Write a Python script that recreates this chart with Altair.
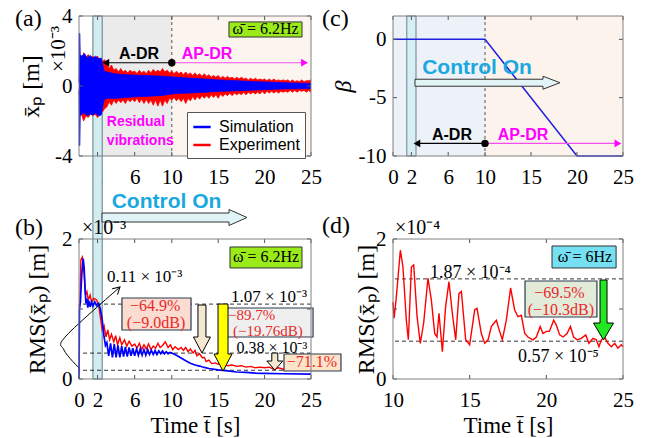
import altair as alt
import pandas as pd

SERIF = "Liberation Serif"
SANS = "Liberation Sans"

# ---------------- values ----------------
# (a) displacement envelopes [x1e-3 m]
SIM_T = [0.0, 0.03, 0.09, 0.13, 0.3, 0.6, 0.9, 1.2, 1.5, 1.8, 2.1, 2.4, 2.55, 2.7, 3.0,
         4, 5, 6, 7, 8, 9, 10, 11, 12, 13, 14, 15, 16, 17, 18, 19, 20, 21, 22, 23, 24, 25]
SIM_HI = [0.2, 3.0, 3.0, 1.8, 1.7, 1.85, 1.6, 1.75, 1.6, 1.7, 1.55, 1.6, 1.2, 0.85, 0.8,
          0.68, 0.65, 0.62, 0.6, 0.58, 0.56, 0.52, 0.48, 0.45, 0.42, 0.38, 0.35, 0.32, 0.3,
          0.27, 0.25, 0.23, 0.21, 0.19, 0.17, 0.16, 0.15]
SIM_LO = [-0.2, -3.4, -3.4, -1.7, -1.6, -1.55, -1.7, -1.6, -1.65, -1.55, -1.7, -1.65, -1.2, -0.8, -0.7,
          -0.7, -0.66, -0.62, -0.6, -0.57, -0.54, -0.45, -0.42, -0.4, -0.37, -0.34, -0.31, -0.29, -0.27,
          -0.25, -0.23, -0.21, -0.19, -0.17, -0.16, -0.15, -0.14]
EXP_T = [k * 0.25 for k in range(101)]
EXP_HI = [0.3, 1.4, 1.9, 1.6, 1.8, 1.5, 1.7, 1.6, 1.7, 1.5,
          1.4, 1.5, 1.3, 1.0, 1.2, 0.9, 1.0, 0.8, 1.0, 0.8,
          0.9, 0.75, 0.9, 0.8, 0.85, 0.7, 0.9, 0.75, 0.85, 0.7,
          0.9, 0.75, 0.95, 0.8, 0.9, 0.8, 1.0, 0.8, 0.9, 0.75,
          0.85, 0.7, 0.85, 0.7, 0.8, 0.65, 0.8, 0.65, 0.75, 0.6,
          0.75, 0.6, 0.7, 0.55, 0.7, 0.55, 0.65, 0.5, 0.6, 0.5,
          0.6, 0.45, 0.55, 0.45, 0.55, 0.45, 0.5, 0.4, 0.5, 0.4,
          0.5, 0.4, 0.45, 0.35, 0.45, 0.35, 0.45, 0.35, 0.4, 0.35,
          0.4, 0.3, 0.4, 0.3, 0.4, 0.3, 0.35, 0.3, 0.35, 0.3,
          0.35, 0.25, 0.35, 0.25, 0.3, 0.25, 0.35, 0.25, 0.3, 0.3,
          0.35]
EXP_LO = [-0.3, -1.6, -2.0, -1.7, -1.8, -1.6, -1.7, -1.6, -1.8, -1.6,
          -1.5, -1.3, -1.2, -0.9, -1.1, -0.8, -1.0, -0.8, -0.95, -0.8,
          -1.0, -0.75, -0.9, -0.75, -0.9, -0.7, -0.95, -0.75, -1.0, -0.75,
          -1.0, -0.8, -1.1, -0.8, -1.15, -0.8, -1.15, -0.8, -1.0, -0.7,
          -0.8, -0.65, -0.85, -0.7, -0.9, -0.7, -1.0, -0.7, -0.85, -0.6,
          -0.8, -0.6, -0.75, -0.55, -0.7, -0.55, -0.7, -0.5, -0.65, -0.5,
          -0.7, -0.45, -0.6, -0.45, -0.55, -0.4, -0.55, -0.4, -0.5, -0.4,
          -0.5, -0.35, -0.5, -0.35, -0.45, -0.35, -0.45, -0.35, -0.45, -0.3,
          -0.45, -0.3, -0.4, -0.3, -0.4, -0.3, -0.4, -0.3, -0.35, -0.3,
          -0.35, -0.25, -0.35, -0.25, -0.35, -0.25, -0.3, -0.25, -0.35, -0.25,
          -0.35]

# (b) RMS [x1e-3 m]
RMS_SIM_T = [0, 0.05, 0.15, 0.3, 0.45, 0.55, 0.65, 0.75, 0.85, 0.95, 1.05, 1.2, 1.35, 1.5, 1.7,
             1.9, 2.1, 2.3, 2.5, 2.7, 2.85,
             3.0, 3.2, 3.4, 3.6, 3.8, 4.0, 4.2, 4.4, 4.6, 4.8, 5.0, 5.2, 5.4, 5.6, 5.8, 6.0,
             6.2, 6.4, 6.6, 6.8, 7.0, 7.2, 7.4, 7.6, 7.8, 8.0, 8.2, 8.4, 8.6, 8.8, 9.0, 9.2,
             9.4, 9.6, 9.8, 10.0,
             10.5, 11, 11.5, 12, 12.5, 13, 13.5, 14, 15, 16, 17, 18, 19, 20, 22, 25]
RMS_SIM = [0.0, 1.0, 1.1, 1.5, 1.72, 1.6, 1.3, 1.08, 1.15, 1.02, 1.12, 1.03, 1.1, 1.04, 1.1,
           1.05, 1.08, 1.0, 0.85, 0.6, 0.48,
           0.52, 0.33, 0.51, 0.31, 0.50, 0.31, 0.48, 0.31, 0.47, 0.32, 0.46, 0.32, 0.45, 0.33, 0.44, 0.33,
           0.43, 0.34, 0.43, 0.34, 0.42, 0.34, 0.42, 0.35, 0.41, 0.35, 0.41, 0.35, 0.40, 0.36, 0.40, 0.36,
           0.39, 0.36, 0.38, 0.37,
           0.34, 0.30, 0.26, 0.225, 0.20, 0.185, 0.165, 0.15, 0.13, 0.115, 0.10, 0.095, 0.085, 0.08, 0.075, 0.07]
RMS_EXP_T = [0, 0.1, 0.2, 0.35, 0.55, 0.7, 0.85, 1.0, 1.2, 1.35,
             1.6, 1.9, 2.15, 2.35, 2.5, 2.7, 2.9, 3.1, 3.3, 3.5,
             3.75, 3.95, 4.15, 4.4, 4.6, 4.9, 5.15, 5.4, 5.7, 6.0,
             6.25, 6.5, 6.75, 7.0, 7.25, 7.5, 7.75, 8.0, 8.25, 8.5,
             8.75, 9.0, 9.3, 9.6, 9.85, 10.1, 10.35, 10.7, 11.0, 11.25,
             11.5, 11.75, 12.0, 12.3, 12.5, 12.7, 13.0, 13.3, 13.5, 13.7,
             14.0, 14.3, 14.7, 15.0, 15.5, 16.0, 16.5, 17.0, 17.5, 18.0,
             18.5, 19.0, 19.5, 20.0, 20.5, 21.0, 21.5, 22.0, 22.5, 23.0,
             23.5, 24.0, 24.5, 25.0]
RMS_EXP = [1.05, 1.08, 1.70, 1.74, 1.51, 1.20, 1.25, 1.13, 1.20, 1.10,
           1.15, 1.13, 1.03, 0.84, 0.70, 0.76, 0.60, 0.70, 0.56, 0.64,
           0.53, 0.62, 0.49, 0.59, 0.49, 0.56, 0.47, 0.54, 0.47, 0.50,
           0.44, 0.51, 0.42, 0.49, 0.43, 0.50, 0.42, 0.47, 0.44, 0.51,
           0.45, 0.48, 0.53, 0.45, 0.49, 0.42, 0.46, 0.42, 0.45, 0.41,
           0.45, 0.39, 0.43, 0.37, 0.41, 0.33, 0.36, 0.30, 0.31, 0.25,
           0.27, 0.22, 0.23, 0.21, 0.22, 0.19, 0.20, 0.18, 0.19, 0.17,
           0.18, 0.16, 0.17, 0.16, 0.17, 0.14, 0.16, 0.14, 0.16, 0.14,
           0.15, 0.14, 0.15, 0.15]
B_LEVELS = [1.07, 0.37, 0.125]

# (c) beta schedule
BETA_T = [0, 10, 20, 25]
BETA = [0, 0, -10, -10]

# (d) RMS at 6 Hz [x1e-4 m]
D_T = [10.0, 10.07, 10.2, 10.48, 10.65, 10.87, 11.0, 11.2, 11.35, 11.57,
       11.78, 12.0, 12.28, 12.5, 12.72, 12.87, 13.0, 13.22, 13.43, 13.65,
       13.87, 14.09, 14.3, 14.46, 14.74, 15.0, 15.33, 15.48, 15.76, 15.98,
       16.2, 16.41, 16.74, 16.9, 17.13, 17.39, 17.67, 17.93, 18.15, 18.37,
       18.59, 18.8, 19.13, 19.35, 19.6, 19.78, 20.0, 20.2, 20.48, 20.65,
       20.87, 21.09, 21.35, 21.57, 21.78, 22.0, 22.28, 22.57, 22.78, 23.04,
       23.26, 23.43, 23.59, 23.8, 24.02, 24.24, 24.46, 24.67, 24.89, 25.0]
D_V = [1.10, 0.87, 1.13, 1.84, 1.6, 0.84, 0.56, 1.6, 1.63, 0.89,
       0.51, 0.8, 1.44, 1.13, 0.65, 0.6, 0.94, 0.39, 1.03, 1.39,
       0.94, 0.56, 1.22, 1.25, 0.56, 0.49, 0.99, 1.01, 0.65, 0.51,
       0.56, 0.75, 0.84, 0.72, 0.56, 0.84, 1.3, 0.99, 0.89, 0.91,
       0.65, 0.6, 0.56, 0.6, 0.75, 0.65, 0.68, 0.68, 0.84, 0.77,
       0.63, 0.6, 0.65, 0.75, 0.6, 0.56, 0.58, 0.63, 0.51, 0.58,
       0.56, 0.46, 0.56, 0.6, 0.51, 0.46, 0.51, 0.44, 0.49, 0.46]
D_LEVELS = [1.43, 0.54]

XT_A = [2, 6, 10, 15, 20, 25]
XT_BC = [0, 2, 6, 10, 15, 20, 25]
XT_D = [10, 15, 20, 25]
YT_A = [-4, 0, 4]
YT_B = [0, 1, 2]
YT_C = [-10, -5, 0]

# ---------------- layout constants ----------------
W1, W2, H = 232, 230, 140
RED, BLUE, MAG, CYAN = "#ff0000", "#0000ff", "#ff00ff", "#1aa8e0"
BOXRED = "#e8292b"
DARKBOX = "#2b3a4e"
ARROW_CTRL_AB = "M0,-4.5L127,-4.5L127,-8L145,0L127,8L127,4.5L0,4.5Z"
ARROW_CTRL_C = "M0,-3.5L128,-3.5L128,-6.5L145,0L128,6.5L128,3.5L0,3.5Z"
DOWN1 = "M-4,0L4,0L4,32L8.5,32L0,48L-8.5,32L-4,32Z"
DOWN2 = "M-5,0L5,0L5,50L9,50L0,67L-9,50L-5,50Z"
DOWN3 = "M-3,0L3,0L3,8L8,8L0,17L-8,8L-3,8Z"
DOWNG = "M-3.5,0L3.5,0L3.5,43L10,43L0,60L-10,43L-3.5,43Z"
CHEVRON = "M-7,-4L0,0L-7,4"


def xaxis(values, title=None):
    kw = dict(values=values, ticks=False, labelPadding=10, labelFont=SERIF, labelFontSize=21,
              labelColor="black", labelFlush=False, labelOverlap=False, domain=False, grid=False,
              format="d")
    if title is None:
        kw["title"] = None
    else:
        kw.update(title=title, titleFont=SERIF, titleFontSize=23, titleFontWeight="normal",
                  titleColor="black", titleY=46, titleBaseline="middle", titleAlign="center")
    return alt.Axis(**kw)


def yaxis(values, title, tx, italic=False):
    kw = dict(values=values, ticks=False, labelPadding=7, labelFont=SERIF, labelFontSize=21,
              labelColor="black", labelFlush=False, labelOverlap=False, domain=False, grid=False,
              format="d", labelExpr="replace(datum.label, '\u2212', '-')",
              title=title, titleFont=SERIF, titleFontSize=24, titleFontWeight="normal",
              titleColor="black", titleX=tx, titleY=H / 2, titleAngle=270,
              titleAlign="center", titleBaseline="middle")
    if italic:
        kw["titleFontStyle"] = "italic"
    return alt.Axis(**kw)


def X(p, f):
    return alt.X(f, type="quantitative", scale=p["sx"], axis=p["ax"])


def Y(p, f):
    return alt.Y(f, type="quantitative", scale=p["sy"], axis=p["ay"])


def df1(**kw):
    return pd.DataFrame({k: [v] for k, v in kw.items()})


def txt(p, t, v, s, size=16, color="black", font=SERIF, weight="normal", align="center", baseline="middle"):
    return alt.Chart(df1(t=t, v=v, s=s)).mark_text(
        font=font, fontSize=size, color=color, fontWeight=weight, align=align, baseline=baseline
    ).encode(x=X(p, "t"), y=Y(p, "v"), text="s:N")


def txt_px(x, y, s, size=20, color="black", font=SERIF, weight="normal", align="left", baseline="middle", angle=0):
    m = dict(font=font, fontSize=size, color=color, fontWeight=weight, align=align, baseline=baseline)
    if angle:
        m["angle"] = angle
    return alt.Chart(df1(s=s)).mark_text(**m).encode(x=alt.value(x), y=alt.value(y), text="s:N")


def box(p, t0, t1, v0, v1, fill, stroke=DARKBOX, sw=1.2):
    return alt.Chart(df1(t0=t0, t1=t1, v0=v0, v1=v1)).mark_rect(
        fill=fill, stroke=stroke, strokeWidth=sw, clip=False
    ).encode(x=X(p, "t0"), x2="t1", y=Y(p, "v0"), y2="v1")


def glyph(p, t, v, path, fill, stroke="black", sw=1, angle=0, filled=True):
    m = dict(shape=path, size=4, strokeWidth=sw, stroke=stroke, opacity=1, filled=filled, clip=False)
    if filled:
        m["fill"] = fill
    if angle:
        m["angle"] = angle
    return alt.Chart(df1(t=t, v=v)).mark_point(**m).encode(x=X(p, "t"), y=Y(p, "v"))


def glyph_px(x, y, path, fill, stroke="#333", sw=1):
    return alt.Chart(df1(a=0)).mark_point(
        shape=path, size=4, strokeWidth=sw, stroke=stroke, fill=fill, filled=True, opacity=1
    ).encode(x=alt.value(x), y=alt.value(y))


def seg(p, t0, t1, v0, v1, color, sw=1):
    return alt.Chart(df1(t0=t0, t1=t1, v0=v0, v1=v1)).mark_rule(color=color, strokeWidth=sw).encode(
        x=X(p, "t0"), x2="t1", y=Y(p, "v0"), y2="v1")


def pt(p, t, v, shape, color, size):
    return alt.Chart(df1(t=t, v=v)).mark_point(shape=shape, size=size, filled=True, color=color, opacity=1).encode(
        x=X(p, "t"), y=Y(p, "v"))


def frame(w):
    return alt.Chart(df1(a=0)).mark_rect(filled=False, stroke="#808080", strokeWidth=1).encode(
        x=alt.value(0), x2=alt.value(w), y=alt.value(0), y2=alt.value(H))


def inner_ticks(p, xt, yt, w):
    """MATLAB-style inward ticks on all four sides, at the axis tick values."""
    xs = pd.DataFrame({"t": xt})
    ys = pd.DataFrame({"v": yt})
    st = dict(color="#555", strokeWidth=1)
    return [
        alt.Chart(xs).mark_rule(**st).encode(x=X(p, "t"), y=alt.value(H - 4), y2=alt.value(H)),
        alt.Chart(xs).mark_rule(**st).encode(x=X(p, "t"), y=alt.value(0), y2=alt.value(4)),
        alt.Chart(ys).mark_rule(**st).encode(y=Y(p, "v"), x=alt.value(0), x2=alt.value(4)),
        alt.Chart(ys).mark_rule(**st).encode(y=Y(p, "v"), x=alt.value(w - 4), x2=alt.value(w)),
    ]


def vdash(p, t):
    return alt.Chart(df1(t=t)).mark_rule(color="#555", strokeDash=[3, 3], strokeWidth=1).encode(
        x=X(p, "t"), y=alt.value(0), y2=alt.value(H))


def hdash(p, levels):
    return alt.Chart(pd.DataFrame({"v": levels})).mark_rule(color="black", strokeDash=[4, 3], strokeWidth=0.8).encode(
        y=Y(p, "v"))


# ================= panel (a) =================
PA = dict(sx=alt.Scale(domain=[0, 25], nice=False, zero=False),
          sy=alt.Scale(domain=[-4, 4], nice=False, zero=False),
          ax=xaxis(XT_A), ay=yaxis(YT_A, "x\u0304\u209a [m]", -48))

COLOR = alt.Scale(domain=["Simulation", "Experiment"], range=[BLUE, RED])
LEG = alt.Legend(title=None, orient="none", legendX=108, legendY=96, direction="vertical",
                 symbolType="stroke", symbolSize=300, symbolStrokeWidth=2.5,
                 labelFont=SANS, labelFontSize=16, labelColor="black", labelOffset=7,
                 strokeColor="#555", fillColor="white", padding=5, rowPadding=0, cornerRadius=0)

exp_df = pd.DataFrame({"t": EXP_T, "lo": EXP_LO, "hi": EXP_HI})
sim_df = pd.DataFrame({"t": SIM_T, "lo": SIM_LO, "hi": SIM_HI})


def edges(name, T, LO, HI):
    rows = []
    for e, V in (("lo", LO), ("hi", HI)):
        for t, v in zip(T, V):
            rows.append({"t": t, "v": v, "series": name, "edge": e})
    return pd.DataFrame(rows)


def edge_layer(df):
    return alt.Chart(df).mark_line(strokeWidth=0.8).encode(
        x=X(PA, "t"), y=Y(PA, "v"), detail="edge:N",
        color=alt.Color("series:N", scale=COLOR, legend=LEG))


bg_a = pd.DataFrame({"t0": [2.5, 10], "t1": [10, 25], "c": ["#ebebeb", "#fcf4ee"]})
layers_a = [
    alt.Chart(bg_a).mark_rect().encode(x=X(PA, "t0"), x2="t1", y=alt.value(0), y2=alt.value(H),
                                       fill=alt.Fill("c:N", scale=None)),
    alt.Chart(df1(t0=1.5, t1=2.5)).mark_rect(fill="#d3ecf1", stroke="#5e7c82", strokeWidth=1, clip=False).encode(
        x=X(PA, "t0"), x2="t1", y=alt.value(0), y2=alt.value(363)),
    vdash(PA, 10),
    alt.Chart(exp_df).mark_area(color=RED, opacity=1).encode(x=X(PA, "t"), y=Y(PA, "lo"), y2="hi"),
    edge_layer(edges("Experiment", EXP_T, EXP_LO, EXP_HI)),
    alt.Chart(sim_df).mark_area(color=BLUE, opacity=1).encode(x=X(PA, "t"), y=Y(PA, "lo"), y2="hi"),
    edge_layer(edges("Simulation", SIM_T, SIM_LO, SIM_HI)),
    box(PA, 16.16, 24.03, 3.66, 2.8, "#9bea1a", stroke="#333", sw=1),
    txt(PA, 20.1, 3.23, "\u03c9\u0304 = 6.2Hz", size=16),
    seg(PA, 2.9, 10, 1.33, 1.33, "black", 1.2),
    seg(PA, 10, 24.3, 1.33, 1.33, "#f050f0", 1.2),
    pt(PA, 2.9, 1.33, "triangle-left", "black", 60),
    pt(PA, 24.3, 1.33, "triangle-right", MAG, 60),
    pt(PA, 10, 1.33, "circle", "black", 55),
    txt(PA, 6.47, 1.83, "A-DR", size=16, font=SANS, weight="bold"),
    txt(PA, 13.8, 1.83, "AP-DR", size=16, font=SANS, weight="bold", color=MAG),
    txt(PA, 3.0, -2.06, "Residual", size=14, font=SANS, weight="bold", color=MAG, align="left"),
    txt(PA, 3.0, -3.14, "vibrations", size=14, font=SANS, weight="bold", color=MAG, align="left"),
    txt_px(87.5, 186, "Control On", size=21, font=SANS, weight="bold", color=CYAN, align="center"),
    glyph_px(23, 201.5, ARROW_CTRL_AB, "#e0f3f7"),
    txt_px(-64, 3, "(a)", size=24),
    txt_px(-20, 33, "\u00d710\u207b\u00b3", size=21, align="center", angle=270),
    *inner_ticks(PA, XT_A, YT_A, W1),
    frame(W1),
    alt.Chart(df1(a=0)).mark_rule(strokeWidth=0, opacity=0).encode(
        x=alt.value(-79), x2=alt.value(-78), y=alt.value(-16), y2=alt.value(-16)),
]
panel_a = alt.layer(*layers_a).properties(width=W1, height=H)

# ================= panel (c) =================
PC = dict(sx=alt.Scale(domain=[0, 25], nice=False, zero=False),
          sy=alt.Scale(domain=[-10, 2], nice=False, zero=False),
          ax=xaxis(XT_BC), ay=yaxis(YT_C, "\u03b2", -50, italic=True))
bg_c = pd.DataFrame({"t0": [0, 10], "t1": [10, 25], "c": ["#edf1f8", "#fcf3ec"]})
beta_df = pd.DataFrame({"t": BETA_T, "b": BETA})
layers_c = [
    alt.Chart(bg_c).mark_rect().encode(x=X(PC, "t0"), x2="t1", y=alt.value(0), y2=alt.value(H),
                                       fill=alt.Fill("c:N", scale=None)),
    alt.Chart(df1(t0=1.5, t1=2.5)).mark_rect(fill="#d8eef5", stroke="#6a8088", strokeWidth=1).encode(
        x=X(PC, "t0"), x2="t1", y=alt.value(0), y2=alt.value(H)),
    vdash(PC, 10),
    alt.Chart(beta_df).mark_line(color="#2020e0", strokeWidth=1.5).encode(x=X(PC, "t"), y=Y(PC, "b")),
    txt(PC, 9.13, -2.48, "Control On", size=21, font=SANS, weight="bold", color=CYAN),
    glyph(PC, 2.39, -3.72, ARROW_CTRL_C, "#e3f4f6", stroke="#333"),
    seg(PC, 2.6, 10, -8.92, -8.92, "black", 1.2),
    seg(PC, 10, 24.45, -8.92, -8.92, "#f050f0", 1.2),
    pt(PC, 2.6, -8.92, "triangle-left", "black", 60),
    pt(PC, 24.45, -8.92, "triangle-right", MAG, 60),
    pt(PC, 10, -8.92, "circle", "black", 55),
    txt(PC, 6.41, -8.2, "A-DR", size=16, font=SANS, weight="bold"),
    txt(PC, 14.13, -8.2, "AP-DR", size=16, font=SANS, weight="bold", color=MAG),
    txt_px(-71, 3, "(c)", size=24),
    *inner_ticks(PC, XT_BC, YT_C, W2),
    frame(W2),
]
panel_c = alt.layer(*layers_c).properties(width=W2, height=H)

# ================= panel (b) =================
PB = dict(sx=alt.Scale(domain=[0, 25], nice=False, zero=False),
          sy=alt.Scale(domain=[0, 2], nice=False, zero=False),
          ax=xaxis(XT_BC, "Time t\u0304 [s]"), ay=yaxis(YT_B, "RMS(x\u0304\u209a) [m]", -42))
rms_exp_df = pd.DataFrame({"t": RMS_EXP_T, "v": RMS_EXP})
rms_sim_df = pd.DataFrame({"t": RMS_SIM_T, "v": RMS_SIM})
curve_df = pd.DataFrame({"i": [0, 1, 2, 3], "t": [0.11, -1.62, -1.40, 4.42], "v": [0.143, 0.414, 0.614, 1.314]})
layers_b = [
    hdash(PB, B_LEVELS),
    alt.Chart(rms_exp_df).mark_line(color=RED, strokeWidth=1.4).encode(x=X(PB, "t"), y=Y(PB, "v")),
    alt.Chart(rms_sim_df).mark_line(color=BLUE, strokeWidth=1.7).encode(x=X(PB, "t"), y=Y(PB, "v")),
    alt.Chart(curve_df).mark_line(color="black", strokeWidth=1, interpolate="cardinal", clip=False).encode(
        x=X(PB, "t"), y=Y(PB, "v"), order="i:Q"),
    glyph(PB, 4.42, 1.314, CHEVRON, None, stroke="black", sw=1, angle=318, filled=False),
    box(PB, 16.27, 24.03, 1.886, 1.586, "#9bea1a", stroke="#333", sw=1),
    txt(PB, 20.15, 1.736, "\u03c9\u0304 = 6.2Hz", size=16),
    txt(PB, 3.02, 1.39, "0.11 \u00d7 10\u207b\u00b3", size=17, align="left", baseline="alphabetic"),
    txt(PB, 24.57, 1.096, "1.07 \u00d7 10\u207b\u00b3", size=17, align="right", baseline="alphabetic"),
    txt(PB, 24.6, 0.372, "0.38 \u00d7 10\u207b\u00b3", size=16, align="right", baseline="alphabetic"),
    box(PB, 4.63, 12.07, 1.157, 0.7, "#fbdcd0"),
    txt(PB, 8.2, 1.036, "\u221264.9%", size=16, color=BOXRED),
    txt(PB, 8.3, 0.793, "(\u22129.0dB)", size=16, color=BOXRED),
    box(PB, 15.95, 25.22, 1.014, 0.6, "#efefef"),
    txt(PB, 16.06, 0.92, "\u221289.7%", size=15, color=BOXRED, align="left"),
    txt(PB, 16.6, 0.69, "(\u221219.76dB)", size=15, color=BOXRED, align="left"),
    box(PB, 22.09, 28.23, 0.357, 0.114, "#fde3c8"),
    txt(PB, 25.1, 0.236, "\u221271.1%", size=16, color=BOXRED),
    glyph(PB, 13.25, 1.057, DOWN1, "#f5e8d0"),
    glyph(PB, 15.52, 1.071, DOWN2, "#ffff00"),
    glyph(PB, 21.1, 0.371, DOWN3, "#f5e8d0"),
    txt_px(-64, -11.5, "(b)", size=24),
    txt_px(3, -5, "\u00d710\u207b\u00b3", size=20, baseline="alphabetic"),
    *inner_ticks(PB, XT_BC, YT_B, W1),
    frame(W1),
]
panel_b = alt.layer(*layers_b).properties(width=W1, height=H)

# ================= panel (d) =================
PD = dict(sx=alt.Scale(domain=[10, 25], nice=False, zero=False),
          sy=alt.Scale(domain=[0, 2], nice=False, zero=False),
          ax=xaxis(XT_D, "Time t\u0304 [s]"), ay=yaxis(YT_B, "RMS(x\u0304\u209a) [m]", -27))
d_df = pd.DataFrame({"t": D_T, "v": D_V})
layers_d = [
    hdash(PD, D_LEVELS),
    alt.Chart(d_df).mark_line(color=RED, strokeWidth=1.4).encode(x=X(PD, "t"), y=Y(PD, "v")),
    box(PD, 20.37, 24.55, 1.9, 1.586, "#74e0f2", stroke="#333", sw=1),
    txt(PD, 22.52, 1.743, "\u03c9\u0304 = 6Hz", size=16),
    txt(PD, 12.41, 1.45, "1.87 \u00d7 10\u207b\u2074", size=18, align="left", baseline="alphabetic"),
    txt(PD, 18.15, 0.24, "0.57 \u00d7 10\u207b\u2075", size=18, align="left", baseline="alphabetic"),
    box(PD, 18.61, 23.3, 1.4, 0.886, "#e2ead8"),
    txt(PD, 20.85, 1.225, "\u221269.5%", size=16, color=BOXRED),
    txt(PD, 20.95, 0.985, "(\u221210.3dB)", size=16, color=BOXRED),
    glyph(PD, 23.73, 1.414, DOWNG, "#22e822"),
    txt_px(-71, -13, "(d)", size=24),
    txt_px(2, -5, "\u00d710\u207b\u2074", size=20, baseline="alphabetic"),
    *inner_ticks(PD, XT_D, YT_B, W2),
    frame(W2),
]
panel_d = alt.layer(*layers_d).properties(width=W2, height=H)

chart = alt.concat(panel_a, panel_c, panel_b, panel_d, columns=2,
                   spacing={"row": 83, "column": 82}, bounds="flush").properties(
    padding=0
).configure_view(strokeWidth=0)

chart.save("out.html", embed_options={"renderer": "svg", "actions": False})
